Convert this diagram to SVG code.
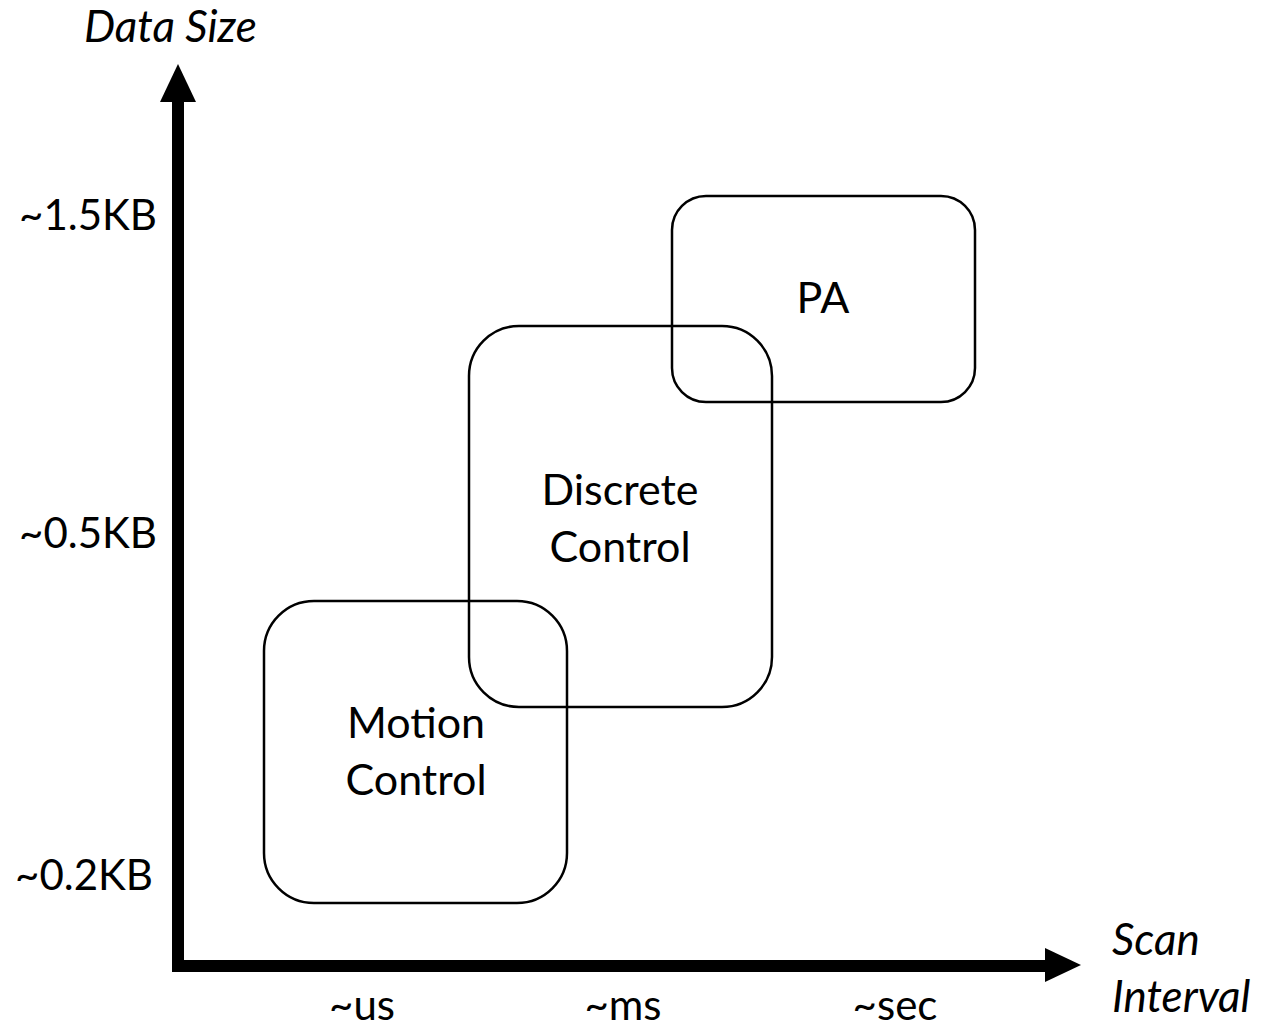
<svg xmlns="http://www.w3.org/2000/svg" width="1263" height="1027" viewBox="0 0 1263 1027">
<style>
.box{fill:none;stroke:#000;stroke-width:2.5}
.t{font-family:Lato,"Liberation Sans",sans-serif;font-size:42px;fill:#000}
.b{font-size:43px}
.c{text-anchor:middle}
.i{font-style:italic;font-size:44px}
</style>
<rect width="1263" height="1027" fill="#fff"/>
<g id="axes">
<line x1="178" y1="100" x2="178" y2="972" stroke="#000" stroke-width="12"/>
<line x1="172" y1="966" x2="1048" y2="966" stroke="#000" stroke-width="12"/>
<polygon points="178,64 196,102 160,102" fill="#000"/>
<polygon points="1081,965 1045,948 1045,982" fill="#000"/>
</g>
<g id="labels">
<text class="t i" x="84" y="42">Data Size</text>
<text class="t" x="157" y="230" text-anchor="end">~1.5KB</text>
<text class="t" x="157" y="548" text-anchor="end">~0.5KB</text>
<text class="t" x="153" y="890" text-anchor="end">~0.2KB</text>
<text class="t c" x="362" y="1020">~us</text>
<text class="t c" x="623" y="1020">~ms</text>
<text class="t c" x="895" y="1020">~sec</text>
<text class="t i" x="1112" y="955">Scan</text>
<text class="t i" x="1112" y="1012">Interval</text>
</g>
<g id="motion">
<rect class="box" x="264" y="601" width="303" height="302" rx="50"/>
<text class="t b c" x="416" y="738">Motion</text>
<text class="t b c" x="416" y="795">Control</text>
</g>
<g id="discrete">
<rect class="box" x="469" y="326" width="303" height="381" rx="50"/>
<text class="t b c" x="620" y="505">Discrete</text>
<text class="t b c" x="620" y="562">Control</text>
</g>
<g id="pa">
<rect class="box" x="672" y="196" width="303" height="206" rx="34"/>
<text class="t b c" x="823" y="313">PA</text>
</g>
</svg>
